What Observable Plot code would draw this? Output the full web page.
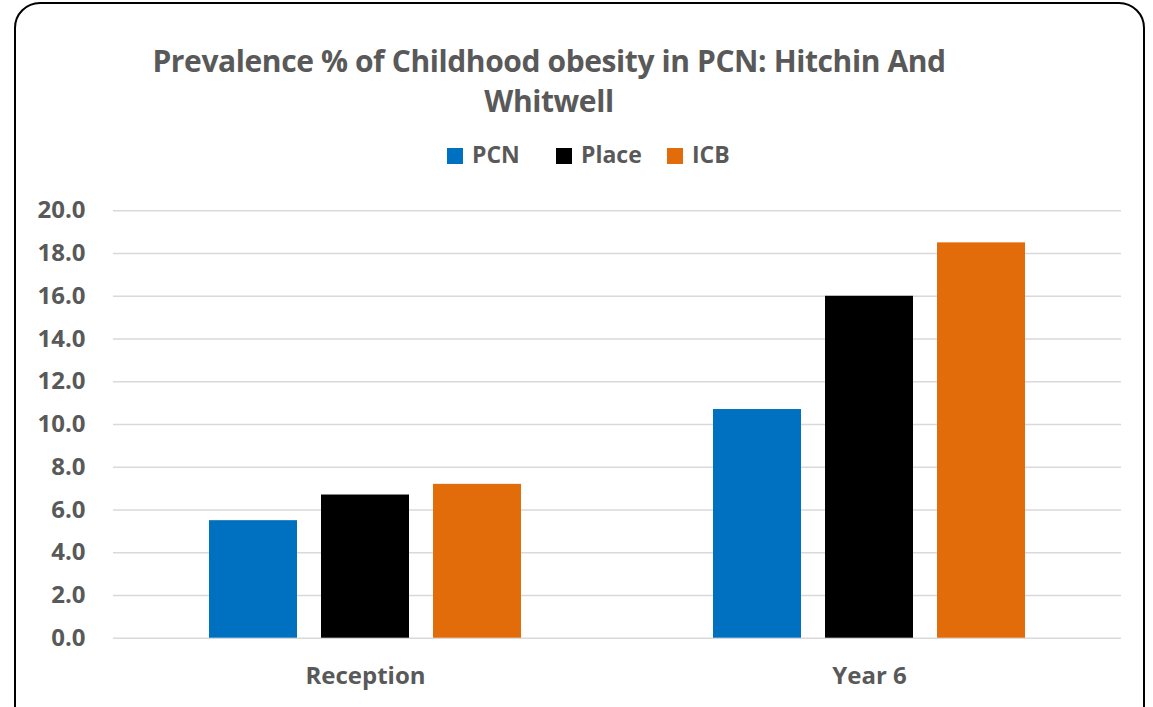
<!DOCTYPE html>
<html>
<head>
<meta charset="utf-8">
<script src="https://cdn.jsdelivr.net/npm/d3@7"></script>
<script src="https://cdn.jsdelivr.net/npm/@observablehq/plot@0.6"></script>
<style>
  html, body { margin: 0; padding: 0; background: #fff; overflow: hidden; }
  body { width: 1153px; height: 707px; position: relative; font-family: "Open Sans", sans-serif; }
  #frame { position: absolute; left: 14px; top: 2px; width: 1131px; height: 740px; border: 2px solid #000; border-radius: 26px; box-sizing: border-box; }
  #title { position: absolute; left: 0; top: 41px; width: 1098px; text-align: center; font-weight: 700; font-size: 30px; line-height: 40px; color: #595959; letter-spacing: -0.4px; }
  .leg { position: absolute; top: 141px; font-weight: 700; font-size: 23px; color: #595959; line-height: 26px; white-space: nowrap; }
  .sw { display: inline-block; width: 16px; height: 16px; vertical-align: -1px; margin-right: 9px; }
  #chart { position: absolute; left: 0; top: 180px; }
</style>
</head>
<body>
<div id="frame"></div>
<div id="title">Prevalence % of Childhood obesity in PCN: Hitchin And<br>Whitwell</div>
<div id="legend"></div>
<div id="chart"></div>
<script>
const categories = ["Reception", "Year 6"];
const seriesNames = ["PCN", "Place", "ICB"];
const pcnValues = [5.5, 10.7];
const placeValues = [6.7, 16.0];
const icbValues = [7.2, 18.5];
const yTicks = [0, 2, 4, 6, 8, 10, 12, 14, 16, 18, 20];
const seriesColors = ["#0070C0", "#000000", "#E36C0A"];

const seriesValues = [pcnValues, placeValues, icbValues];
const data = [];
categories.forEach((c, i) => {
  seriesNames.forEach((s, j) => data.push({ category: c, series: s, value: seriesValues[j][i] }));
});

// legend
const legendX = [447, 556, 667];
const legend = document.getElementById("legend");
seriesNames.forEach((s, j) => {
  const d = document.createElement("div");
  d.className = "leg";
  d.style.left = legendX[j] + "px";
  d.innerHTML = `<span class="sw" style="background:${seriesColors[j]}"></span>${s}`;
  legend.appendChild(d);
});

const W = 1153, H = 527;
const chart = Plot.plot({
  width: W,
  height: H,
  marginLeft: 113,
  marginRight: 32,
  marginTop: 30.3,
  marginBottom: 69.3,
  style: { fontFamily: "Open Sans, sans-serif", fontWeight: 700, color: "#595959", background: "transparent" },
  fx: { domain: categories, padding: 0, label: null },
  x: { domain: seriesNames, paddingInner: 0.214, paddingOuter: 0.857, axis: null },
  y: { domain: [0, 20], ticks: yTicks, label: null },
  color: { domain: seriesNames, range: seriesColors },
  marks: [
    Plot.ruleY(yTicks, { stroke: "#D9D9D9", strokeWidth: 1.5 }),
    Plot.barY(data, { fx: "category", x: "series", y: "value", fill: "series" }),
    Plot.axisY({ ticks: yTicks, tickFormat: d3.format(".1f"), tickSize: 0, tickPadding: 28, fontSize: 24, fill: "#595959", label: null }),
    Plot.axisFx({ anchor: "bottom", tickSize: 0, tickPadding: 29, fontSize: 24, fill: "#595959", label: null })
  ]
});
document.getElementById("chart").appendChild(chart);
</script>
</body>
</html>
